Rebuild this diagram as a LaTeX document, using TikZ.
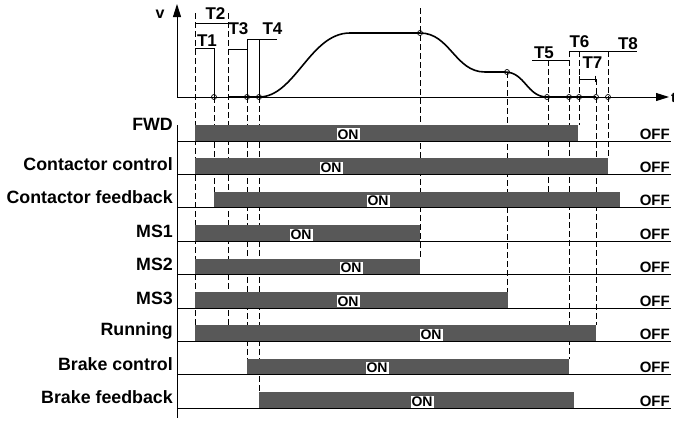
\documentclass[tikz,border=0pt]{standalone}
\usepackage{fontspec}
\setmainfont{Liberation Sans}
\usetikzlibrary{positioning, arrows.meta}
\definecolor{barcol}{RGB}{88,88,88}

\begin{document}
\begin{tikzpicture}[x=1pt, y=-1pt,
    rowlbl/.style={font=\fontsize{17.8}{18}\selectfont\bfseries, anchor=east, inner sep=0pt},
    tlbl/.style={font=\fontsize{17}{17}\selectfont\bfseries, inner sep=0pt},
    onbox/.style={fill=white, font=\fontsize{14}{14}\selectfont\bfseries, inner sep=1pt, anchor=south},
    offlbl/.style={font=\fontsize{15}{15}\selectfont\bfseries, anchor=south east, inner sep=0pt},
    bar/.style={fill=barcol},
    lvl/.style={line width=0.9pt},
    guide/.style={dash pattern=on 6pt off 3pt, line width=0.8pt},
    tk/.style={line width=0.9pt},
    ring/.style={circle, draw, line width=0.7pt, inner sep=0pt, minimum size=5pt},
    axis/.style={line width=0.9pt, -{Triangle[length=13pt, width=8pt]}},
    speed/.style={line width=1.6pt},
  ]
  \useasboundingbox (0,0) rectangle (674,421);

  % speed profile
  \coordinate (O) at (177,97);
  \coordinate (vtip) at (177,4);
  \coordinate (ttip) at (669,97);
  \draw[axis] (O) -- (vtip);
  \draw[axis] (O) -- (ttip);
  \node[font=\fontsize{16}{16}\selectfont\bfseries] (vlbl) at (160,14) {v};
  \node[font=\fontsize{14}{14}\selectfont\bfseries, anchor=west, inner sep=0pt] (tax) at (671,98) {t};
  \draw[speed] (228,97) -- (259,97) .. controls (295,97) and (310,33) .. (350,33) -- (420,33)
    .. controls (450,33) and (455,72) .. (485,72) -- (505,72)
    .. controls (525,72) and (527,97) .. (547,97) -- (596,97);

  % time brackets
  \draw[tk] (195,23) -- (228,23);
  \node[tlbl] (T2) at (215.5,14) {T2};
  \draw[tk] (195,48) -- (214,48) -- (214,97);
  \node[tlbl] (T1) at (207,40.5) {T1};
  \draw[tk] (228,49) -- (247,49);
  \node[tlbl] (T3) at (238.5,29) {T3};
  \draw[tk] (277,39) -- (247,39) -- (247,97);
  \draw[tk] (259,39) -- (259,97);
  \node[tlbl] (T4) at (272.5,29) {T4};
  \draw[tk] (532,60) -- (569,60);
  \node[tlbl] (T5) at (544,53) {T5};
  \draw[tk] (569,51) -- (637,51);
  \node[tlbl] (T6) at (579.5,41.5) {T6};
  \node[tlbl] (T8) at (628,44) {T8};
  \draw[tk, |-|] (579,79) -- (596,79);
  \node[tlbl] (T7) at (592.5,63) {T7};

  % guides
  \draw[guide] (195,13) -- (195,325.4);
  \draw[guide] (228,13) -- (228,325.4);
  \draw[guide] (214,97) -- (214,191.8);
  \draw[guide] (247,97) -- (247,358.8);
  \draw[guide] (259,97) -- (259,392.2);
  \draw[guide] (420,8) -- (420,258.6);
  \draw[guide] (507,72) -- (507,292);
  \draw[guide] (548,60) -- (548,191.8);
  \draw[guide] (569,51) -- (569,358.8);
  \draw[guide] (579,51) -- (579,125);
  \draw[guide] (596,79) -- (596,325.4);
  \draw[guide] (608,51) -- (608,158.4);

  % signals
  \foreach \i/\name/\dy/\xa/\xb/\xon in {
      0/FWD/-1/195/578/348,
      1/Contactor control/6/195/608/331,
      2/Contactor feedback/5/214/620/378,
      3/MS1/6/195/420/301,
      4/MS2/6/195/420/351,
      5/MS3/6/195/508/348,
      6/Running/6/195/596/431,
      7/Brake control/5/247/569/377,
      8/Brake feedback/5/259/574/422} {
    \pgfmathsetmacro\yt{125+33.4*\i}
    \pgfmathsetmacro\yb{\yt+16}
    \fill[bar] (\xa,\yt) rectangle (\xb,\yb);
    \draw[lvl] (177,\yb) -- (671,\yb);
    \node[rowlbl] (sig\i) at (173,\yt+\dy) {\name};
    \node[onbox] (on\i) at (\xon,\yb-0.5) {ON};
    \node[offlbl] (off\i) at (670,\yb-1.5) {OFF};
  }
  \draw[lvl] (177,125) -- (177,418);

  % markers
  \foreach \x/\y [count=\k] in {214/97, 247/97, 259/97, 420/33, 507/72, 547/97, 569/97, 579/97, 596/97, 608/97}
    \node[ring] (m\k) at (\x,\y) {};

\end{tikzpicture}
\end{document}
